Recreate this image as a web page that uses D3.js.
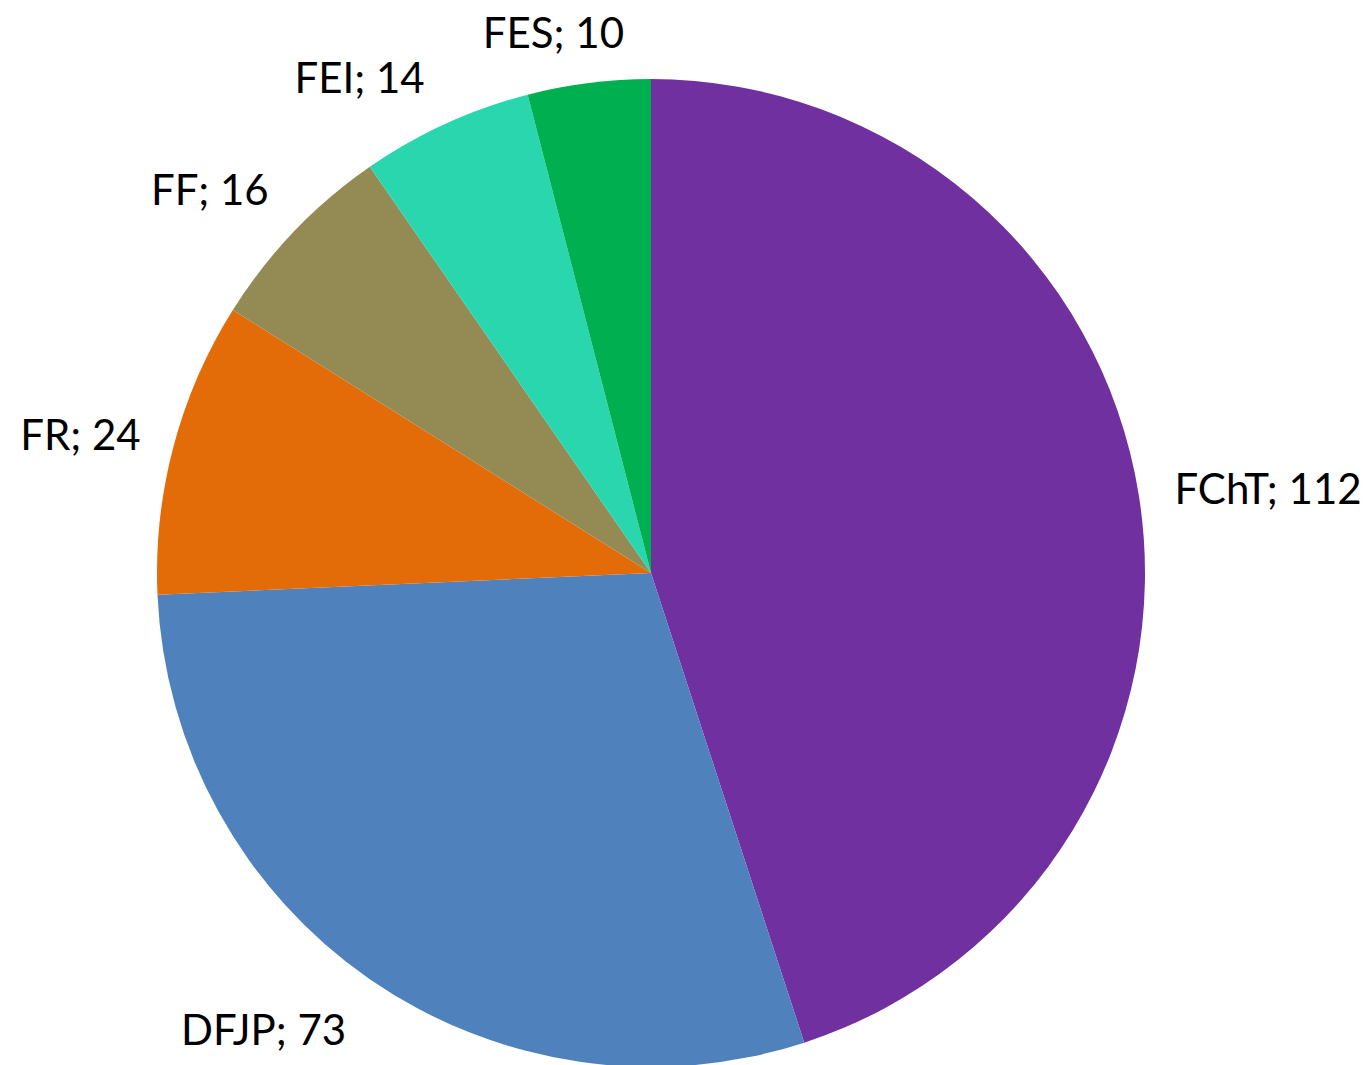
<!DOCTYPE html>
<html>
<head>
<meta charset="utf-8">
<script src="https://cdn.jsdelivr.net/npm/d3@7"></script>
<style>
  html, body { margin: 0; padding: 0; background: #fff; }
  svg { display: block; }
</style>
</head>
<body>
<div id="chart"></div>
<script>
const categories = ["FChT", "DFJP", "FR", "FF", "FEI", "FES"];
const values = [112, 73, 24, 16, 14, 10];
const colors = ["#7030A0", "#4F81BD", "#E36C09", "#948A54", "#2AD6AE", "#00B050"];

const width = 1370;
const height = 1065;
const cx = 651, cy = 573;
const radius = 494;

// small label nudges (Excel "best fit" placement), [dx, dy] per slice
const labelNudge = [[-2, 0], [-2, 20], [4, -2], [2, -15], [-5, -11], [40, -12]];

const data = categories.map((c, i) => ({ name: c, value: values[i], color: colors[i], nudge: labelNudge[i] }));

const svg = d3.select("#chart")
  .append("svg")
  .attr("width", width)
  .attr("height", height);

const g = svg.append("g")
  .attr("transform", `translate(${cx},${cy})`);

// no sorting, start at 12 o'clock, clockwise
const pie = d3.pie().value(d => d.value).sort(null);
const arcs = pie(data);

const arc = d3.arc().innerRadius(0).outerRadius(radius);
const labelArc = d3.arc().innerRadius(532).outerRadius(532);

g.selectAll("path.slice")
  .data(arcs)
  .join("path")
  .attr("class", "slice")
  .attr("fill", d => d.data.color)
  .attr("d", arc);

// labels outside, "name; value"
g.selectAll("text.label")
  .data(arcs)
  .join("text")
  .attr("class", "label")
  .attr("x", d => labelArc.centroid(d)[0] + d.data.nudge[0])
  .attr("y", d => labelArc.centroid(d)[1] + d.data.nudge[1])
  .attr("dy", "0.35em")
  .attr("text-anchor", d => ((d.startAngle + d.endAngle) / 2 < Math.PI ? "start" : "end"))
  .style("font-family", "Lato, 'Open Sans', sans-serif")
  .style("font-size", "42px")
  .attr("fill", "#000")
  .text(d => `${d.data.name}; ${d.data.value}`);
</script>
</body>
</html>
